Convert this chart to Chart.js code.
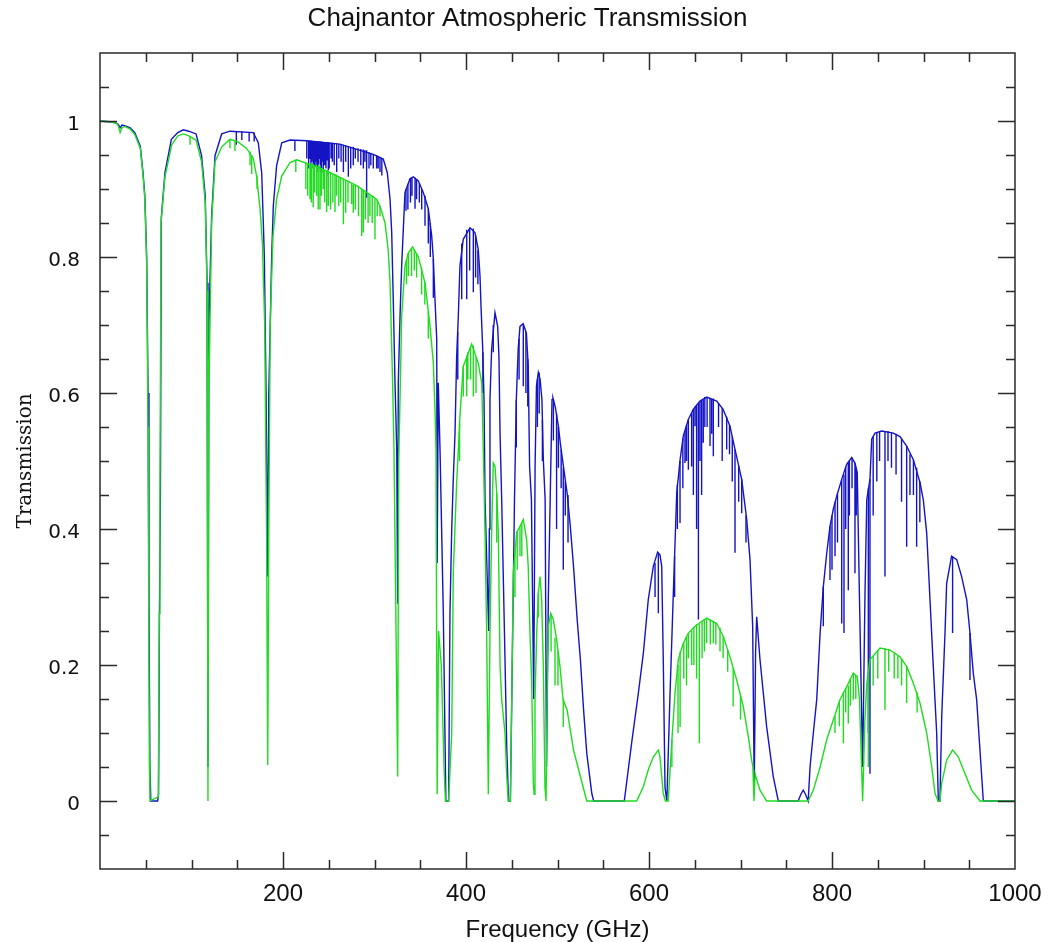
<!DOCTYPE html>
<html>
<head>
<meta charset="utf-8">
<title>Chajnantor Atmospheric Transmission</title>
<script src="https://cdn.jsdelivr.net/npm/chart.js@4.4.1/dist/chart.umd.min.js"></script>
<style>
  html, body { margin: 0; padding: 0; background: #fff; }
  canvas { display: block; }
</style>
</head>
<body>
<canvas id="transChart" width="1055" height="942"></canvas>
<script>
// Dry case (blue): smooth envelope, frequency in GHz
const blueFreq = [
  0, 10, 18, 20, 22, 24, 27, 33, 38, 44,
  47, 49, 51, 52.5, 53.5, 54.5, 55.5, 63, 64, 65,
  66, 67, 71, 78, 85, 91, 97, 105, 111, 115,
  117, 118, 119, 122, 125.7, 133, 142, 167.5, 173, 176.7,
  178.5, 179.6, 181.5, 183, 184.5, 187.6, 189.4, 193, 198.6, 207.7,
  226, 262, 298.7, 309.6, 314, 317, 318.8, 320.5, 322.4, 324.3,
  325.3, 326, 327.9, 329.7, 333.3, 338.8, 342.4, 347.9, 353.3, 358.8,
  362.5, 364.3, 366.1, 368, 368.5, 369.7, 371.6, 375.2, 378, 381,
  382.5, 384.4, 386, 388, 389.8, 391.6, 393.4, 397, 404.4, 409.8,
  413.4, 415.3, 416.4, 418.3, 419.7, 420.8, 424.8, 425.5, 426.2, 428,
  431.7, 434.6, 436, 437.2, 439, 442, 444.5, 446.5, 448.5, 450,
  451.5, 453, 455, 457, 459, 462.5, 466, 468, 469.5, 471.5,
  474, 475.5, 477, 479, 481, 483, 484.5, 486.5, 488, 490,
  492, 494, 495, 497.5, 501, 503, 507, 510.5, 514, 517.5,
  521.5, 525, 528.5, 532, 537.5, 539.5, 573, 581, 588.3, 593.8,
  599.2, 604.7, 609.4, 612, 613.9, 615.6, 617.5, 619.5, 623, 626.6,
  630.3, 634, 637.5, 643, 648.4, 655.7, 663, 674, 681, 688.5,
  694, 701.3, 706.8, 710.4, 713.3, 715, 716.5, 717.7, 721.3, 728.6,
  735.8, 741.3, 763, 766, 768.6, 771, 774, 776, 779.6, 783.3,
  787, 790.5, 794.2, 797.8, 801.4, 805.1, 810.6, 816, 821.5, 825.1,
  827.6, 830, 833.5, 836, 838, 841.5, 843.4, 847, 854.3, 867,
  874.3, 881.6, 888.9, 896.2, 899.8, 903.5, 907.1, 910.7, 914.4, 916.2,
  918, 919.9, 923.5, 925.3, 930.7, 936.3, 941.7, 947.2, 950.8, 954.4,
  958.1, 961.7, 965.4, 1000
];
const blueTrans = [
  1.0, 0.999, 0.997, 0.995, 0.99, 0.994, 0.993, 0.99, 0.983, 0.963,
  0.924, 0.89, 0.80, 0.6, 0.3, 0.06, 0, 0, 0.01, 0.28,
  0.44, 0.858, 0.924, 0.973, 0.983, 0.987, 0.985, 0.981, 0.949, 0.89,
  0.762, 0.05, 0.7, 0.86, 0.949, 0.981, 0.985, 0.983, 0.968, 0.924,
  0.85, 0.80, 0.6, 0.33, 0.6, 0.80, 0.875, 0.934, 0.968, 0.972,
  0.971, 0.966, 0.951, 0.944, 0.924, 0.885, 0.836, 0.738, 0.615, 0.517,
  0.29, 0.615, 0.713, 0.787, 0.895, 0.915, 0.918, 0.912, 0.895, 0.871,
  0.831, 0.797, 0.738, 0.679, 0.35, 0.615, 0.517, 0.277, 0, 0,
  0.277, 0.40, 0.47, 0.541, 0.654, 0.713, 0.787, 0.826, 0.843, 0.836,
  0.811, 0.772, 0.728, 0.664, 0.59, 0.443, 0.25, 0.4, 0.59, 0.664,
  0.718, 0.698, 0.654, 0.541, 0.443, 0.25, 0.08, 0, 0, 0.149,
  0.296, 0.443, 0.59, 0.664, 0.698, 0.702, 0.688, 0.64, 0.492, 0.443,
  0.15, 0.492, 0.61, 0.63, 0.62, 0.59, 0.502, 0.443, 0.05, 0.3,
  0.443, 0.59, 0.593, 0.58, 0.551, 0.527, 0.487, 0.453, 0.404, 0.345,
  0.267, 0.208, 0.134, 0.07, 0.011, 0, 0, 0.085, 0.158, 0.217,
  0.296, 0.345, 0.366, 0.362, 0.345, 0.208, 0.02, 0, 0.158, 0.306,
  0.453, 0.502, 0.537, 0.561, 0.576, 0.588, 0.594, 0.588, 0.576, 0.551,
  0.517, 0.473, 0.414, 0.355, 0.257, 0.02, 0.22, 0.271, 0.208, 0.109,
  0.036, 0, 0, 0.01, 0.016, 0.01, 0, 0.05, 0.1, 0.149,
  0.247, 0.315, 0.364, 0.404, 0.429, 0.448, 0.473, 0.495, 0.505, 0.497,
  0.483, 0.3, 0.05, 0.3, 0.443, 0.473, 0.532, 0.541, 0.544, 0.541,
  0.536, 0.522, 0.502, 0.468, 0.443, 0.394, 0.296, 0.198, 0.1, 0,
  0, 0.124, 0.247, 0.32, 0.36, 0.355, 0.33, 0.296, 0.247, 0.188,
  0.149, 0.075, 0, 0
];

// Wet case (green): smooth envelope
const greenFreq = [
  0, 10, 18, 20, 22, 24, 27, 33, 38, 44,
  47, 49, 51, 52.5, 53.2, 53.9, 54.6, 63.7, 64.8, 65.5,
  66.7, 71, 78.4, 85, 91, 97, 105, 111, 115, 117,
  118, 119, 122, 125.7, 133, 142, 150, 160, 167.5, 171,
  175, 177.5, 180, 182, 183.3, 184.5, 186, 189, 193, 198.6,
  207.7, 215, 244, 255, 280.5, 291.4, 302.3, 306, 311.5, 315,
  317, 319.8, 321.3, 325.3, 326.5, 329.7, 333.3, 337, 341.6, 347.9,
  355.2, 360.7, 364.3, 366.1, 367.2, 368.5, 370, 373, 376, 377.5,
  381, 384.4, 386.1, 389.8, 391.6, 393.4, 397, 406.2, 413.4, 417.2,
  418.9, 420.8, 422.6, 424.4, 426.2, 428, 429.8, 431.7, 433.6, 435.3,
  437.2, 439, 442.6, 444.5, 446.2, 448.5, 450, 451.7, 455.4, 459,
  462.6, 466.3, 468, 469.9, 471.8, 473.6, 474.5, 475.4, 477.3, 479,
  480.9, 482.7, 484.5, 486.3, 487.5, 489, 490, 492.6, 495.4, 499.1,
  502.7, 506, 510.5, 517.5, 525, 532, 586.5, 593.8, 599.2, 604.7,
  610.2, 612, 613.9, 615.6, 618, 621, 624.8, 628.4, 632, 637.5,
  643, 650.3, 663, 674, 681.2, 688.5, 695.8, 703, 708.5, 712.2,
  713.5, 714.7, 716, 718, 721.3, 728.6, 774, 779.6, 787, 794.2,
  801.4, 808.7, 816, 823.3, 827.6, 830, 833.5, 836, 838, 841.5,
  852.5, 863.4, 874.3, 881.6, 888.9, 896.2, 903.5, 909, 912.6, 916,
  918, 919.9, 925.3, 931.8, 938, 945.4, 952.6, 961.7, 1000
];
const greenTrans = [
  1.0, 0.999, 0.997, 0.993, 0.983, 0.99, 0.992, 0.988, 0.98, 0.96,
  0.92, 0.885, 0.79, 0.55, 0.3, 0.06, 0, 0.006, 0.276, 0.443,
  0.85, 0.918, 0.965, 0.978, 0.981, 0.978, 0.972, 0.94, 0.88, 0.75,
  0, 0.6, 0.85, 0.94, 0.962, 0.973, 0.97, 0.96, 0.945, 0.92,
  0.87, 0.82, 0.7, 0.4, 0.053, 0.4, 0.7, 0.83, 0.885, 0.919,
  0.939, 0.943, 0.929, 0.922, 0.905, 0.895, 0.885, 0.875, 0.85, 0.81,
  0.762, 0.615, 0.517, 0.036, 0.5, 0.713, 0.787, 0.806, 0.815, 0.80,
  0.762, 0.698, 0.644, 0.576, 0.517, 0.01, 0.25, 0.2, 0.05, 0,
  0, 0.1, 0.336, 0.468, 0.517, 0.566, 0.639, 0.672, 0.644, 0.615,
  0.517, 0.394, 0.247, 0.01, 0.247, 0.395, 0.497, 0.492, 0.453, 0.395,
  0.2, 0.149, 0.1, 0.036, 0, 0, 0.149, 0.336, 0.395, 0.404,
  0.414, 0.384, 0.345, 0.247, 0.174, 0.026, 0.01, 0.149, 0.247, 0.306,
  0.33, 0.296, 0.198, 0.02, 0, 0.198, 0.257, 0.276, 0.267, 0.237,
  0.198, 0.15, 0.134, 0.075, 0.036, 0, 0, 0.021, 0.046, 0.065,
  0.075, 0.065, 0.036, 0.011, 0, 0, 0.085, 0.158, 0.208, 0.232,
  0.247, 0.257, 0.269, 0.261, 0.242, 0.212, 0.178, 0.139, 0.095, 0.06,
  0.05, 0, 0.04, 0.03, 0.016, 0, 0, 0.016, 0.05, 0.09,
  0.119, 0.149, 0.168, 0.188, 0.183, 0.15, 0, 0.12, 0.173, 0.208,
  0.225, 0.222, 0.212, 0.198, 0.173, 0.144, 0.1, 0.05, 0.011, 0,
  0, 0.026, 0.06, 0.075, 0.065, 0.04, 0.016, 0, 0
];

// Narrow absorption lines: frequency, level just beside the line, level at its core
const blueLineFreq = [
  149, 155, 163, 168.5, 213, 226, 228, 229.5, 230.5, 231.4,
  232, 233, 234, 235, 236, 237, 238, 239, 240.4, 241,
  242, 243, 244, 245.5, 247, 248, 249.5, 250.5, 252.5, 254,
  256, 258.7, 261, 263.5, 266, 268.5, 271.4, 274, 276.8, 279,
  282, 285, 287.8, 289.5, 291.4, 294, 296, 298.7, 302.3, 304,
  306, 308, 334.4, 336.5, 339.3, 341, 344.3, 346, 349, 351.6,
  355.2, 358.8, 361, 364.3, 391, 395.3, 400.8, 404, 408, 410.5,
  413, 418.5, 429.8, 455, 458, 462.6, 465.5, 467.5, 478, 480,
  483.5, 495.5, 499, 501, 504, 506.3, 508.5, 511.5, 606.6, 610.2,
  628, 631, 633.9, 637, 639.3, 641, 643, 646.6, 648.5, 650.3,
  652, 654, 655.7, 657.5, 659.3, 661, 663.5, 666.7, 668.5, 670.3,
  676, 680, 684.9, 688, 691, 694, 698, 701.3, 706, 790.5,
  797.8, 800, 803.3, 806, 810.6, 813.1, 815, 817.8, 819, 821.9,
  825.1, 826.5, 839.7, 841.5, 845, 849, 852, 857.9, 861.2, 865,
  870, 876, 881.6, 885.2, 889, 892.5, 896, 931.8, 950.8
];
const blueLineTop = [
  0.985, 0.985, 0.984, 0.983, 0.972, 0.971, 0.971, 0.971, 0.971, 0.971,
  0.97, 0.97, 0.97, 0.97, 0.97, 0.97, 0.97, 0.97, 0.97, 0.97,
  0.97, 0.969, 0.969, 0.969, 0.969, 0.969, 0.969, 0.968, 0.968, 0.968,
  0.967, 0.967, 0.966, 0.966, 0.965, 0.964, 0.963, 0.962, 0.962, 0.96,
  0.96, 0.959, 0.958, 0.957, 0.957, 0.954, 0.953, 0.951, 0.95, 0.948,
  0.947, 0.945, 0.9, 0.907, 0.916, 0.917, 0.917, 0.914, 0.909, 0.9,
  0.89, 0.871, 0.85, 0.797, 0.69, 0.82, 0.84, 0.843, 0.842, 0.832,
  0.81, 0.66, 0.7, 0.59, 0.68, 0.70, 0.69, 0.65, 0.62, 0.63,
  0.56, 0.59, 0.57, 0.55, 0.517, 0.49, 0.47, 0.45, 0.35, 0.365,
  0.36, 0.465, 0.50, 0.533, 0.545, 0.553, 0.561, 0.57, 0.576, 0.58,
  0.582, 0.585, 0.588, 0.589, 0.59, 0.594, 0.594, 0.593, 0.591, 0.592,
  0.585, 0.578, 0.565, 0.553, 0.536, 0.517, 0.493, 0.473, 0.42, 0.315,
  0.404, 0.42, 0.44, 0.452, 0.473, 0.48, 0.491, 0.497, 0.5, 0.505,
  0.497, 0.49, 0.46, 0.473, 0.536, 0.542, 0.543, 0.544, 0.544, 0.542,
  0.54, 0.533, 0.522, 0.51, 0.502, 0.49, 0.47, 0.36, 0.247
];
const blueLineCore = [
  0.965, 0.972, 0.97, 0.97, 0.956, 0.945, 0.93, 0.944, 0.935, 0.94,
  0.945, 0.93, 0.935, 0.934, 0.94, 0.925, 0.93, 0.936, 0.944, 0.925,
  0.93, 0.94, 0.924, 0.935, 0.93, 0.942, 0.919, 0.93, 0.945, 0.94,
  0.935, 0.925, 0.945, 0.94, 0.925, 0.94, 0.918, 0.93, 0.935, 0.945,
  0.94, 0.935, 0.93, 0.94, 0.887, 0.93, 0.935, 0.93, 0.93, 0.93,
  0.925, 0.92, 0.868, 0.87, 0.88, 0.89, 0.871, 0.885, 0.88, 0.87,
  0.846, 0.82, 0.8, 0.74, 0.62, 0.738, 0.738, 0.78, 0.748, 0.77,
  0.76, 0.6, 0.66, 0.52, 0.62, 0.61, 0.6, 0.58, 0.55, 0.57,
  0.50, 0.53, 0.40, 0.49, 0.46, 0.34, 0.42, 0.38, 0.3, 0.276,
  0.30, 0.40, 0.409, 0.46, 0.497, 0.50, 0.487, 0.492, 0.45, 0.551,
  0.40, 0.267, 0.5, 0.45, 0.527, 0.55, 0.55, 0.522, 0.54, 0.507,
  0.55, 0.50, 0.517, 0.51, 0.47, 0.365, 0.44, 0.423, 0.38, 0.257,
  0.325, 0.34, 0.36, 0.38, 0.261, 0.247, 0.40, 0.31, 0.42, 0.46,
  0.335, 0.42, 0.1, 0.04, 0.42, 0.47, 0.50, 0.33, 0.5, 0.49,
  0.48, 0.44, 0.374, 0.45, 0.45, 0.374, 0.41, 0.247, 0.178
];

const greenLineFreq = [
  98.4, 142, 147.5, 164, 165.8, 171.6, 214, 225, 227, 229.5,
  231, 233, 234.5, 236.7, 238.5, 240.4, 242, 244, 245.5, 247.7,
  249.5, 252, 254.5, 256.8, 258.6, 261, 263, 266, 268.5, 271,
  275, 276.8, 279, 282.5, 286, 287.8, 290, 293, 295, 297.5,
  300.5, 303, 306, 335, 337, 340.5, 343.5, 346, 351.5, 355,
  358.8, 393, 397, 400.8, 402, 405, 408, 411, 433.6, 453.5,
  456, 459, 461, 479, 493, 497.3, 500.5, 506.3, 625, 631.7,
  634, 638, 641, 643, 646.6, 649, 652, 655, 658, 660.5,
  663, 667, 670.3, 673, 677.6, 681, 686, 692, 700, 803.3,
  808, 812.4, 815, 817.8, 820, 823.3, 826, 839.7, 845, 850,
  857.9, 862, 868, 872, 876, 881.6, 893
];
const greenLineTop = [
  0.978, 0.973, 0.972, 0.955, 0.95, 0.92, 0.943, 0.939, 0.938, 0.938,
  0.937, 0.937, 0.935, 0.936, 0.934, 0.935, 0.931, 0.929, 0.928, 0.928,
  0.928, 0.924, 0.922, 0.922, 0.921, 0.918, 0.917, 0.915, 0.913, 0.912,
  0.908, 0.906, 0.906, 0.903, 0.9, 0.898, 0.896, 0.894, 0.89, 0.89,
  0.886, 0.884, 0.875, 0.796, 0.806, 0.813, 0.811, 0.805, 0.785, 0.763,
  0.72, 0.555, 0.639, 0.655, 0.66, 0.668, 0.67, 0.653, 0.453, 0.37,
  0.397, 0.404, 0.41, 0.306, 0.275, 0.24, 0.22, 0.15, 0.09, 0.2,
  0.22, 0.233, 0.242, 0.247, 0.25, 0.255, 0.26, 0.26, 0.265, 0.267,
  0.269, 0.267, 0.265, 0.262, 0.255, 0.242, 0.222, 0.195, 0.155, 0.125,
  0.146, 0.16, 0.166, 0.17, 0.18, 0.188, 0.185, 0.19, 0.213, 0.222,
  0.225, 0.223, 0.218, 0.214, 0.209, 0.198, 0.16
];
const greenLineCore = [
  0.965, 0.96, 0.956, 0.935, 0.922, 0.9, 0.925, 0.9, 0.89, 0.885,
  0.88, 0.873, 0.895, 0.89, 0.87, 0.87, 0.89, 0.9, 0.88, 0.866,
  0.875, 0.87, 0.88, 0.866, 0.89, 0.875, 0.88, 0.848, 0.865, 0.88,
  0.878, 0.865, 0.87, 0.86, 0.831, 0.836, 0.855, 0.85, 0.86, 0.85,
  0.826, 0.86, 0.86, 0.76, 0.772, 0.772, 0.78, 0.77, 0.745, 0.73,
  0.68, 0.5, 0.595, 0.595, 0.62, 0.62, 0.595, 0.6, 0.38, 0.3,
  0.34, 0.36, 0.36, 0.27, 0.22, 0.17, 0.17, 0.109, 0.05, 0.1,
  0.109, 0.18, 0.17, 0.21, 0.2, 0.2, 0.18, 0.085, 0.21, 0.22,
  0.232, 0.23, 0.232, 0.23, 0.22, 0.21, 0.19, 0.139, 0.12, 0.1,
  0.11, 0.085, 0.13, 0.114, 0.14, 0.149, 0.15, 0.05, 0.17, 0.18,
  0.134, 0.19, 0.18, 0.18, 0.17, 0.144, 0.13
];

// Axis ticks
const xTickLabels = [200, 400, 600, 800, 1000];
const yTickLabels = [0, 0.2, 0.4, 0.6, 0.8, 1];
const xMinorStep = 50;
const yMinorStep = 0.05;

const BLUE = '#1414c4';
const GREEN = '#1fdc1f';

function toPoints(freq, trans) {
  return freq.map((f, i) => ({ x: f, y: trans[i] }));
}

// each line becomes a short vertical stroke; null breaks the path between them
function toLineStrokes(freq, top, core) {
  const pts = [];
  freq.forEach((f, i) => {
    pts.push({ x: f, y: top[i] }, { x: f, y: core[i] }, { x: f, y: null });
  });
  return pts;
}

// box round the plot with inward ticks on all four sides
const frameTicks = {
  id: 'frameTicks',
  afterDatasetsDraw(chart) {
    const { ctx, chartArea: a, scales: { x, y } } = chart;
    const majorLen = 17, minorLen = 9;
    ctx.save();
    ctx.strokeStyle = '#2a2a2a';
    ctx.lineWidth = 1.5;
    ctx.strokeRect(a.left, a.top, a.right - a.left, a.bottom - a.top);
    ctx.beginPath();
    for (let v = x.min + xMinorStep; v < x.max; v += xMinorStep) {
      const px = Math.round(x.getPixelForValue(v)) + 0.5;
      const len = xTickLabels.includes(v) ? majorLen : minorLen;
      ctx.moveTo(px, a.bottom); ctx.lineTo(px, a.bottom - len);
      ctx.moveTo(px, a.top); ctx.lineTo(px, a.top + len);
    }
    const nY = Math.round((y.max - y.min) / yMinorStep);
    for (let k = 1; k < nY; k++) {
      const v = +(y.min + k * yMinorStep).toFixed(3);
      const py = Math.round(y.getPixelForValue(v)) + 0.5;
      const len = yTickLabels.some(t => Math.abs(t - v) < 1e-6) ? majorLen : minorLen;
      ctx.moveTo(a.left, py); ctx.lineTo(a.left + len, py);
      ctx.moveTo(a.right, py); ctx.lineTo(a.right - len, py);
    }
    ctx.stroke();
    ctx.restore();
  }
};

const lineStyle = { pointRadius: 0, borderWidth: 1.4, tension: 0, fill: false };

new Chart(document.getElementById('transChart'), {
  type: 'line',
  data: {
    datasets: [
      { label: 'wet lines', data: toLineStrokes(greenLineFreq, greenLineTop, greenLineCore), borderColor: GREEN, order: 0, ...lineStyle },
      { label: 'wet', data: toPoints(greenFreq, greenTrans), borderColor: GREEN, order: 1, ...lineStyle },
      { label: 'dry lines', data: toLineStrokes(blueLineFreq, blueLineTop, blueLineCore), borderColor: BLUE, order: 2, ...lineStyle },
      { label: 'dry', data: toPoints(blueFreq, blueTrans), borderColor: BLUE, order: 3, ...lineStyle }
    ]
  },
  options: {
    responsive: false,
    animation: false,
    events: [],
    layout: { padding: 0 },
    plugins: {
      legend: { display: false },
      tooltip: { enabled: false },
      title: {
        display: true,
        text: 'Chajnantor Atmospheric Transmission',
        color: '#111',
        font: { family: '"Liberation Sans", Arial, sans-serif', size: 26, weight: 'normal', lineHeight: 1 },
        padding: { top: 6, bottom: 21 }
      }
    },
    scales: {
      x: {
        type: 'linear',
        min: 0,
        max: 1000,
        afterFit: s => { s.height = 73; },
        afterBuildTicks: s => { s.ticks = xTickLabels.map(v => ({ value: v })); },
        grid: { display: false, drawTicks: false },
        border: { display: false },
        ticks: {
          color: '#111',
          padding: 11,
          maxRotation: 0,
          font: { family: '"Liberation Sans", Arial, sans-serif', size: 24 },
          callback: v => String(v)
        },
        title: {
          display: true,
          text: 'Frequency (GHz)',
          color: '#111',
          font: { family: '"Liberation Sans", Arial, sans-serif', size: 24, lineHeight: 1 },
          padding: { top: 0, bottom: 0 }
        }
      },
      y: {
        type: 'linear',
        min: -0.1,
        max: 1.1,
        afterFit: s => { s.width = 100; },
        afterBuildTicks: s => { s.ticks = yTickLabels.map(v => ({ value: v })); },
        grid: { display: false, drawTicks: false },
        border: { display: false },
        ticks: {
          color: '#111',
          padding: 20,
          labelOffset: 4,
          font: { family: '"DejaVu Sans", sans-serif', size: 20 },
          callback: v => String(v)
        },
        title: {
          display: true,
          text: 'Transmission',
          color: '#111',
          font: { family: '"DejaVu Serif", serif', size: 20, lineHeight: 1.2 },
          padding: { top: 14, bottom: 0 }
        }
      },
      // empty right-hand strip so the frame stops short of the canvas edge
      yRight: {
        type: 'linear',
        position: 'right',
        min: -0.1,
        max: 1.1,
        afterFit: s => { s.width = 40; },
        grid: { display: false, drawTicks: false },
        border: { display: false },
        ticks: { display: false }
      }
    }
  },
  plugins: [frameTicks]
});
</script>
</body>
</html>
